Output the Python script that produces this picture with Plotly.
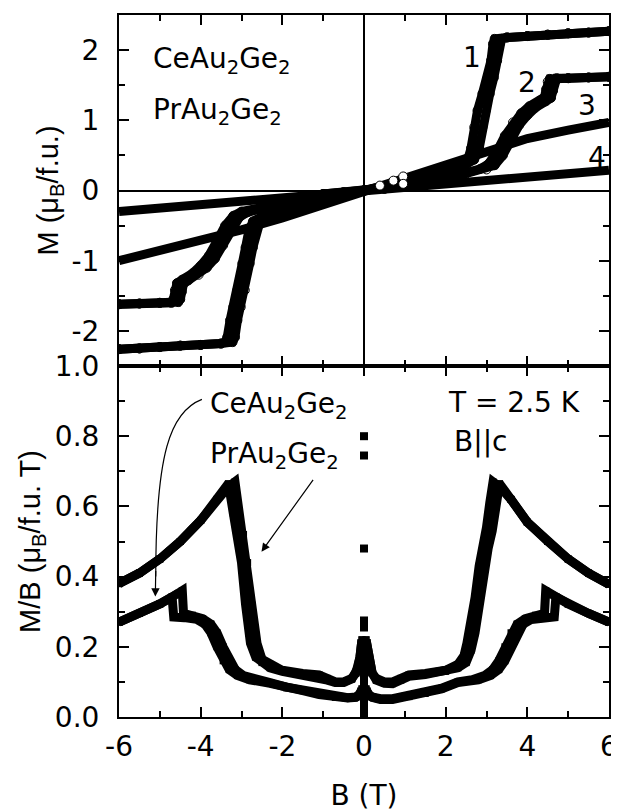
import plotly.graph_objects as go

# ---------------- data: upper panel, M (mu_B/f.u.) vs B (T) ----------------
B_lin = [-6, -5, -4, -3, -2, -1, 0, 1, 2, 3, 4, 5, 6]
M_curve3 = [-1.00, -0.86, -0.71, -0.56, -0.39, -0.20, 0.0, 0.20, 0.39, 0.57, 0.74, 0.86, 0.97]
M_curve4 = [-0.30, -0.25, -0.20, -0.15, -0.10, -0.05, 0.0, 0.05, 0.10, 0.15, 0.20, 0.25, 0.29]

# curve 1 (PrAu2Ge2), outer and inner hysteresis branches
B_pr_out = [-6.0, -5.5, -5.0, -4.5, -4.0, -3.5, -3.4, -3.35, -3.28, -3.2, -3.1, -2.98, -2.9, -2.82,
            -2.72, -2.5, -2.0, -1.5, -1.0, -0.5, 0.0, 0.5, 1.0, 1.5, 2.0, 2.5, 2.7, 2.82, 2.9, 2.98,
            3.08, 3.18, 3.26, 3.32, 3.37, 3.5, 4.0, 4.5, 5.0, 5.5, 6.0]
M_pr_out = [-2.26, -2.25, -2.23, -2.21, -2.20, -2.18, -2.16, -2.09, -1.85, -1.66, -1.42, -1.04, -0.81,
            -0.57, -0.44, -0.37, -0.25, -0.18, -0.11, -0.05, 0.0, 0.05, 0.11, 0.18, 0.25, 0.37, 0.44,
            0.60, 0.90, 1.14, 1.38, 1.61, 1.85, 2.09, 2.16, 2.18, 2.20, 2.22, 2.24, 2.25, 2.27]
B_pr_in = [-6.0, -5.5, -5.0, -4.5, -4.0, -3.5, -3.22, -3.16, -3.1, -3.02, -2.92, -2.8, -2.72, -2.64,
           -2.56, -2.45, -2.3, -2.0, -1.5, -1.0, -0.5, 0.0, 0.5, 1.0, 1.5, 2.0, 2.3, 2.45, 2.55, 2.62,
           2.7, 2.78, 2.9, 3.03, 3.11, 3.16, 3.2, 3.5, 4.0, 4.5, 5.0, 5.5, 6.0]
M_pr_in = [-2.26, -2.25, -2.23, -2.21, -2.20, -2.18, -2.16, -2.09, -1.85, -1.66, -1.42, -1.04, -0.81,
           -0.57, -0.47, -0.40, -0.34, -0.27, -0.19, -0.12, -0.06, 0.0, 0.06, 0.12, 0.19, 0.27, 0.34,
           0.40, 0.46, 0.60, 0.90, 1.14, 1.38, 1.61, 1.85, 2.09, 2.16, 2.18, 2.20, 2.22, 2.24, 2.25, 2.27]

# curve 2 (CeAu2Ge2), outer and inner hysteresis branches
B_ce_out = [-6.0, -5.5, -5.0, -4.72, -4.67, -4.63, -4.58, -4.45, -4.2, -4.0, -3.8, -3.6, -3.4, -3.2,
            -3.0, -2.5, -2.0, -1.5, -1.0, -0.5, 0.0, 0.5, 1.0, 1.5, 2.0, 2.5, 3.0, 3.2, 3.4, 3.6, 3.8,
            4.0, 4.2, 4.45, 4.58, 4.63, 4.67, 4.72, 5.0, 5.5, 6.0]
M_ce_out = [-1.62, -1.61, -1.60, -1.60, -1.55, -1.42, -1.32, -1.27, -1.18, -1.07, -0.93, -0.72, -0.50,
            -0.36, -0.30, -0.24, -0.16, -0.095, -0.05, -0.025, 0.0, 0.025, 0.05, 0.095, 0.16, 0.24,
            0.30, 0.36, 0.50, 0.72, 0.93, 1.07, 1.18, 1.27, 1.32, 1.42, 1.55, 1.60, 1.60, 1.61, 1.62]
B_ce_in = [-6.0, -5.5, -5.0, -4.55, -4.5, -4.46, -4.42, -4.3, -4.05, -3.85, -3.65, -3.45, -3.25, -3.05,
           -2.85, -2.5, -2.0, -1.5, -1.0, -0.5, 0.0, 0.5, 1.0, 1.5, 2.0, 2.5, 2.85, 3.05, 3.25, 3.45,
           3.65, 3.85, 4.05, 4.3, 4.42, 4.46, 4.5, 4.55, 5.0, 5.5, 6.0]
M_ce_in = [-1.62, -1.61, -1.60, -1.59, -1.55, -1.44, -1.33, -1.28, -1.20, -1.10, -0.97, -0.78, -0.55,
           -0.38, -0.31, -0.26, -0.17, -0.10, -0.05, -0.025, 0.0, 0.025, 0.05, 0.10, 0.17, 0.26, 0.31,
           0.38, 0.55, 0.78, 0.97, 1.10, 1.20, 1.28, 1.33, 1.44, 1.55, 1.59, 1.60, 1.61, 1.62]

# a few open (white) points near the origin
B_white = [0.39, 0.72, 0.96, 0.96]
M_white = [0.07, 0.14, 0.20, 0.095]

# ---------------- data: lower panel, M/B (mu_B/f.u. T) vs B (T) ----------------
B_prr_out = [-6.0, -5.5, -5.0, -4.5, -4.0, -3.6, -3.32, -3.2, -3.1, -3.0, -2.9, -2.78, -2.65, -2.5,
             -2.3, -2.0, -1.5, -1.1, -0.9, -0.7, -0.5, -0.3, -0.2, -0.15, -0.1, -0.05, None,
             0.05, 0.1, 0.15, 0.2, 0.3, 0.5, 0.7, 0.9, 1.1, 1.5, 2.0, 2.3, 2.5, 2.62, 2.72, 2.82,
             2.94, 3.04, 3.14, 3.22, 3.32, 3.6, 4.0, 4.5, 5.0, 5.5, 6.0]
MB_pr_out = [0.38, 0.41, 0.45, 0.50, 0.56, 0.62, 0.665, 0.58, 0.52, 0.44, 0.32, 0.21, 0.17, 0.155,
             0.14, 0.13, 0.12, 0.115, 0.105, 0.098, 0.098, 0.108, 0.125, 0.14, 0.17, 0.22, None,
             0.22, 0.17, 0.14, 0.125, 0.105, 0.096, 0.095, 0.105, 0.116, 0.121, 0.13, 0.14, 0.155,
             0.19, 0.24, 0.32, 0.42, 0.48, 0.53, 0.60, 0.665, 0.62, 0.555, 0.50, 0.45, 0.41, 0.378]
B_prr_in = [-6.0, -5.5, -5.0, -4.5, -4.0, -3.6, -3.33, -3.16, -3.05, -2.95, -2.85, -2.75, -2.62, -2.5,
            -2.3, -2.0, -1.5, -1.1, -0.9, -0.7, -0.5, -0.3, -0.2, -0.15, -0.1, -0.05, None,
            0.05, 0.1, 0.15, 0.2, 0.3, 0.5, 0.7, 0.9, 1.1, 1.5, 2.0, 2.3, 2.45, 2.52, 2.62, 2.72,
            2.82, 2.92, 3.0, 3.08, 3.16, 3.33, 3.6, 4.0, 4.5, 5.0, 5.5, 6.0]
MB_pr_in = [0.38, 0.41, 0.45, 0.50, 0.56, 0.62, 0.655, 0.67, 0.58, 0.52, 0.44, 0.32, 0.21, 0.165,
            0.15, 0.133, 0.124, 0.12, 0.11, 0.10, 0.10, 0.11, 0.125, 0.14, 0.17, 0.22, None,
            0.22, 0.17, 0.14, 0.125, 0.11, 0.10, 0.10, 0.11, 0.12, 0.124, 0.133, 0.15, 0.175,
            0.21, 0.27, 0.34, 0.43, 0.48, 0.54, 0.61, 0.67, 0.655, 0.62, 0.555, 0.50, 0.45, 0.41, 0.378]

B_cer_out = [-6.0, -5.5, -5.0, -4.7, -4.66, -4.4, -4.1, -3.9, -3.75, -3.6, -3.45, -3.3, -3.1, -2.8,
             -2.3, -1.9, -1.5, -1.1, -0.7, -0.4, -0.2, -0.1, -0.05, None,
             0.05, 0.1, 0.2, 0.4, 0.7, 1.1, 1.5, 1.9, 2.3, 2.8, 3.1, 3.3, 3.45, 3.6, 3.75, 3.9,
             4.1, 4.4, 4.66, 4.7, 5.0, 5.5, 6.0]
MB_ce_out = [0.27, 0.295, 0.322, 0.342, 0.285, 0.283, 0.278, 0.265, 0.24, 0.20, 0.16, 0.135, 0.118,
             0.106, 0.096, 0.083, 0.075, 0.064, 0.056, 0.054, 0.056, 0.065, 0.08, None,
             0.08, 0.065, 0.056, 0.05, 0.05, 0.058, 0.067, 0.08, 0.098, 0.106, 0.118, 0.135, 0.16,
             0.20, 0.24, 0.265, 0.278, 0.283, 0.285, 0.342, 0.322, 0.295, 0.27]
B_cer_in = [-6.0, -5.5, -5.0, -4.7, -4.45, -4.42, -4.2, -3.95, -3.75, -3.6, -3.45, -3.3, -3.15, -2.95,
            -2.65, -2.3, -1.9, -1.5, -1.1, -0.7, -0.4, -0.2, -0.1, -0.05, None,
            0.05, 0.1, 0.2, 0.4, 0.7, 1.1, 1.5, 1.9, 2.3, 2.65, 2.95, 3.15, 3.3, 3.45, 3.6, 3.75,
            3.95, 4.2, 4.42, 4.45, 4.7, 5.0, 5.5, 6.0]
MB_ce_in = [0.27, 0.295, 0.322, 0.342, 0.36, 0.295, 0.29, 0.28, 0.265, 0.24, 0.20, 0.16, 0.135, 0.118,
            0.106, 0.098, 0.085, 0.076, 0.065, 0.057, 0.055, 0.057, 0.066, 0.08, None,
            0.08, 0.066, 0.057, 0.052, 0.052, 0.06, 0.07, 0.082, 0.1, 0.106, 0.118, 0.135, 0.16,
            0.20, 0.24, 0.265, 0.28, 0.29, 0.295, 0.36, 0.342, 0.322, 0.295, 0.27]

# scattered points at B ~ 0
B_spike = [0.0, 0.0, 0.0, 0.0, 0.0, 0.0, 0.0, 0.0, 0.0, 0.0, 0.0, 0.0, 0.0, 0.0, 0.0, 0.0, 0.0]
MB_spike = [0.80, 0.745, 0.48, 0.275, 0.255, 0.215, 0.195, 0.175, 0.155, 0.135, 0.115, 0.095,
            0.075, 0.055, 0.035, 0.015, 0.0]

# ---------------- ticks ----------------
x_tickvals = [-6, -4, -2, 0, 2, 4, 6]
x_ticktext = ["-6", "-4", "-2", "0", "2", "4", "6"]
yM_tickvals = [-2, -1, 0, 1, 2]
yM_ticktext = ["-2", "-1", "0", "1", "2"]
yMB_tickvals = [0.0, 0.2, 0.4, 0.6, 0.8, 1.0]
yMB_ticktext = ["0.0", "0.2", "0.4", "0.6", "0.8", "1.0"]

FONT_H = "DejaVu Sans, Liberation Sans, sans-serif"      # horizontal texts
FONT_V = "Liberation Sans, Arial, sans-serif"            # rotated axis titles
BLACK = "black"
LW = 9

fig = go.Figure()

# upper panel traces
for bx, my in [(B_lin, M_curve4), (B_lin, M_curve3)]:
    fig.add_trace(go.Scatter(x=bx, y=my, xaxis="x2", yaxis="y2", mode="lines",
                             line=dict(color=BLACK, width=LW), showlegend=False, hoverinfo="skip"))
for bx, my in [(B_ce_out, M_ce_out), (B_ce_in, M_ce_in), (B_pr_out, M_pr_out), (B_pr_in, M_pr_in)]:
    fig.add_trace(go.Scatter(x=bx, y=my, xaxis="x2", yaxis="y2", mode="lines+markers",
                             line=dict(color=BLACK, width=LW),
                             marker=dict(symbol="circle-open", size=9, color=BLACK, line=dict(width=1)),
                             showlegend=False, hoverinfo="skip"))
fig.add_trace(go.Scatter(x=B_white, y=M_white, xaxis="x2", yaxis="y2", mode="markers",
                         marker=dict(symbol="circle", size=9, color="white",
                                     line=dict(color=BLACK, width=1)),
                         showlegend=False, hoverinfo="skip"))

# lower panel traces
for bx, my in [(B_cer_out, MB_ce_out), (B_cer_in, MB_ce_in), (B_prr_out, MB_pr_out), (B_prr_in, MB_pr_in)]:
    fig.add_trace(go.Scatter(x=bx, y=my, xaxis="x", yaxis="y", mode="lines+markers",
                             line=dict(color=BLACK, width=LW), connectgaps=False,
                             marker=dict(symbol="square", size=7, color=BLACK),
                             showlegend=False, hoverinfo="skip"))
fig.add_trace(go.Scatter(x=B_spike, y=MB_spike, xaxis="x", yaxis="y", mode="markers",
                         marker=dict(symbol="square", size=8, color=BLACK),
                         showlegend=False, hoverinfo="skip"))

common_axis = dict(showline=True, linecolor=BLACK, linewidth=2, mirror="ticks",
                   ticks="inside", ticklen=10, tickwidth=1.5, tickcolor=BLACK,
                   showgrid=False, automargin=False,
                   tickfont=dict(family=FONT_H, size=28, color=BLACK))
minor_x = dict(dtick=1, ticklen=6, tickwidth=1.5, ticks="inside", tickcolor=BLACK)

# the page body adds an 8 px offset; the figure is sized so it ends at 619 x 812
fig.update_layout(
    width=611, height=804,
    margin=dict(l=111, r=10, t=7, b=95, autoexpand=False),
    paper_bgcolor="white", plot_bgcolor="white",
    font=dict(family=FONT_H, color=BLACK),
    xaxis=dict(domain=[0, 1], anchor="y", range=[-6, 6], tickmode="array",
               tickvals=x_tickvals, ticktext=x_ticktext, zeroline=False,
               minor=minor_x, ticklabelstandoff=3,
               title=dict(text="B (T)", font=dict(family=FONT_H, size=28), standoff=35),
               **common_axis),
    xaxis2=dict(domain=[0, 1], anchor="y2", range=[-6, 6], matches="x", tickmode="array",
                tickvals=x_tickvals, ticktext=x_ticktext, showticklabels=False,
                zeroline=True, zerolinecolor=BLACK, zerolinewidth=1.5,
                minor=minor_x, **common_axis),
    yaxis=dict(domain=[0, 0.5], anchor="x", range=[0, 1.0], tickmode="array",
               tickvals=yMB_tickvals, ticktext=yMB_ticktext, zeroline=False,
               minor=dict(dtick=0.1, ticklen=6, tickwidth=1.5, ticks="inside", tickcolor=BLACK),
               ticklabelstandoff=12,
               title=dict(text="M/B (μ<sub>B</sub>/f.u. T)", font=dict(family=FONT_V, size=29), standoff=6),
               **common_axis),
    yaxis2=dict(domain=[0.5, 1], anchor="x2", range=[-2.5, 2.5], tickmode="array",
                tickvals=yM_tickvals, ticktext=yM_ticktext,
                zeroline=True, zerolinecolor=BLACK, zerolinewidth=1.5,
                minor=dict(dtick=0.5, ticklen=6, tickwidth=1.5, ticks="inside", tickcolor=BLACK),
                ticklabelstandoff=12,
                title=dict(text="M (μ<sub>B</sub>/f.u.)", font=dict(family=FONT_V, size=29), standoff=4),
                **common_axis),
)

ann_font = dict(family=FONT_H, size=28, color=BLACK)
annotations = [
    dict(x=-5.22, y=1.85, xref="x2", yref="y2", text="CeAu<sub>2</sub>Ge<sub>2</sub>",
         xanchor="left", yanchor="middle", showarrow=False, font=ann_font),
    dict(x=-5.22, y=1.13, xref="x2", yref="y2", text="PrAu<sub>2</sub>Ge<sub>2</sub>",
         xanchor="left", yanchor="middle", showarrow=False, font=ann_font),
    dict(x=2.65, y=1.90, xref="x2", yref="y2", text="1", showarrow=False, font=ann_font),
    dict(x=3.99, y=1.54, xref="x2", yref="y2", text="2", showarrow=False, font=ann_font),
    dict(x=5.47, y=1.21, xref="x2", yref="y2", text="3", showarrow=False, font=ann_font),
    dict(x=5.71, y=0.47, xref="x2", yref="y2", text="4", showarrow=False, font=ann_font),
    dict(x=2.01, y=0.897, xref="x", yref="y", text="T = 2.5 K",
         xanchor="left", yanchor="middle", showarrow=False, font=ann_font),
    dict(x=2.15, y=0.784, xref="x", yref="y", text="B||c",
         xanchor="left", yanchor="middle", showarrow=False, font=ann_font),
    dict(x=-3.82, y=0.887, xref="x", yref="y", text="CeAu<sub>2</sub>Ge<sub>2</sub>",
         xanchor="left", yanchor="middle", showarrow=False, font=ann_font),
    dict(x=-3.82, y=0.745, xref="x", yref="y", text="PrAu<sub>2</sub>Ge<sub>2</sub>",
         xanchor="left", yanchor="middle", showarrow=False, font=ann_font),
    # arrow heads
    dict(x=-5.11, y=0.343, ax=-5.10, ay=0.42, xref="x", yref="y", axref="x", ayref="y",
         text="", showarrow=True, arrowhead=2, arrowsize=1.4, arrowwidth=1.2, arrowcolor=BLACK),
    dict(x=-2.51, y=0.471, ax=-1.22, ay=0.68, xref="x", yref="y", axref="x", ayref="y",
         text="", showarrow=True, arrowhead=2, arrowsize=1.4, arrowwidth=1.2, arrowcolor=BLACK),
]
fig.update_layout(annotations=annotations)

fig.add_shape(type="path", xref="x", yref="y",
              path="M -3.97,0.905 C -4.75,0.87 -5.1,0.75 -5.1,0.40",
              line=dict(color=BLACK, width=1.2))

fig.write_html("out.html")
